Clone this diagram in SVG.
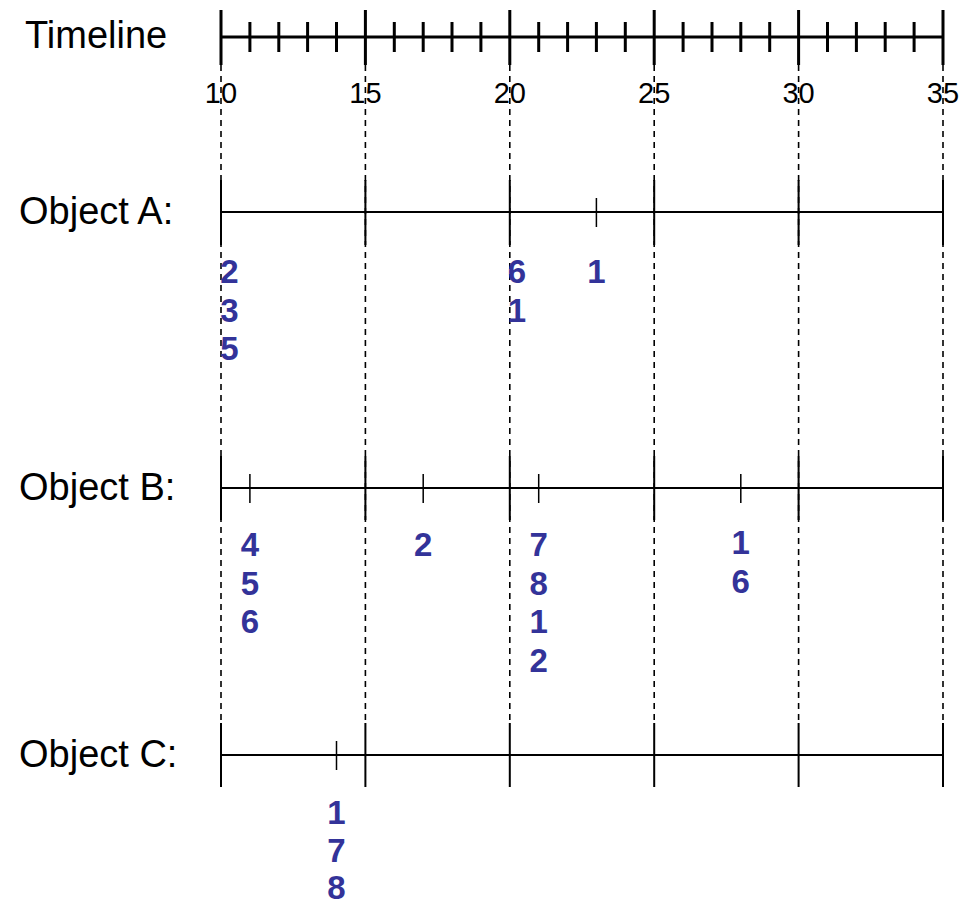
<svg xmlns="http://www.w3.org/2000/svg" width="967" height="907" viewBox="0 0 967 907">
<style>
.lbl{font-family:"Liberation Sans",Arial,sans-serif;font-size:38px;fill:#000}
.tl{font-family:"Liberation Sans",Arial,sans-serif;font-size:29px;fill:#000;text-anchor:middle}
.ev{font-family:"Liberation Sans",Arial,sans-serif;font-size:33px;font-weight:bold;fill:#333399;text-anchor:middle}
.ax{stroke:#000;stroke-width:3;fill:none}
.row{stroke:#000;stroke-width:2;fill:none}
.et{stroke:#000;stroke-width:1.5;fill:none}
.dash{stroke:#000;stroke-width:1.6;stroke-dasharray:6 5;fill:none}
</style>
<rect width="967" height="907" fill="#fff"/>
<g id="guides">
<path class="dash" d="M221 65V723M365.4 65V723M509.8 65V723M654.2 65V723M798.6 65V723M943 65V723"/>
</g>
<g id="timeline">
<text class="lbl" x="25" y="48">Timeline</text>
<path class="ax" d="M221 37H943"/>
<path class="ax" d="M221 10V65M365.4 10V65M509.8 10V65M654.2 10V65M798.6 10V65M943 10V65"/>
<path class="ax" d="M249.9 22V52M278.8 22V52M307.6 22V52M336.5 22V52M394.3 22V52M423.2 22V52M452 22V52M480.9 22V52M538.7 22V52M567.6 22V52M596.4 22V52M625.3 22V52M683.1 22V52M712 22V52M740.8 22V52M769.7 22V52M827.5 22V52M856.4 22V52M885.2 22V52M914.1 22V52"/>
<text class="tl" x="221" y="103">10</text>
<text class="tl" x="365.4" y="103">15</text>
<text class="tl" x="509.8" y="103">20</text>
<text class="tl" x="654.2" y="103">25</text>
<text class="tl" x="798.6" y="103">30</text>
<text class="tl" x="943" y="103">35</text>
</g>
<g id="objectA">
<text class="lbl" x="19" y="224">Object A:</text>
<path class="row" d="M221 212H943M221 180V245M365.4 180V245M509.8 180V245M654.2 180V245M798.6 180V245M943 180V245"/>
<path class="et" d="M596.4 198V227"/>
<text class="ev" x="229.5" y="283">2</text>
<text class="ev" x="229.5" y="321.5">3</text>
<text class="ev" x="229.5" y="360">5</text>
<text class="ev" x="517" y="283">6</text>
<text class="ev" x="517" y="321.5">1</text>
<text class="ev" x="596.4" y="283">1</text>
</g>
<g id="objectB">
<text class="lbl" x="19" y="500">Object B:</text>
<path class="row" d="M221 488H943M221 456V520M365.4 456V520M509.8 456V520M654.2 456V520M798.6 456V520M943 456V520"/>
<path class="et" d="M249.9 474V503M423.2 474V503M538.7 474V503M740.8 474V503"/>
<text class="ev" x="249.9" y="556">4</text>
<text class="ev" x="249.9" y="594.5">5</text>
<text class="ev" x="249.9" y="633">6</text>
<text class="ev" x="423.2" y="556">2</text>
<text class="ev" x="538.7" y="556">7</text>
<text class="ev" x="538.7" y="594.5">8</text>
<text class="ev" x="538.7" y="633">1</text>
<text class="ev" x="538.7" y="671.5">2</text>
<text class="ev" x="740.8" y="554">1</text>
<text class="ev" x="740.8" y="592.5">6</text>
</g>
<g id="objectC">
<text class="lbl" x="19" y="767">Object C:</text>
<path class="row" d="M221 755H943M221 723V787M365.4 723V787M509.8 723V787M654.2 723V787M798.6 723V787M943 723V787"/>
<path class="et" d="M336.5 741V770"/>
<text class="ev" x="336.5" y="824">1</text>
<text class="ev" x="336.5" y="862">7</text>
<text class="ev" x="336.5" y="899">8</text>
</g>
</svg>
